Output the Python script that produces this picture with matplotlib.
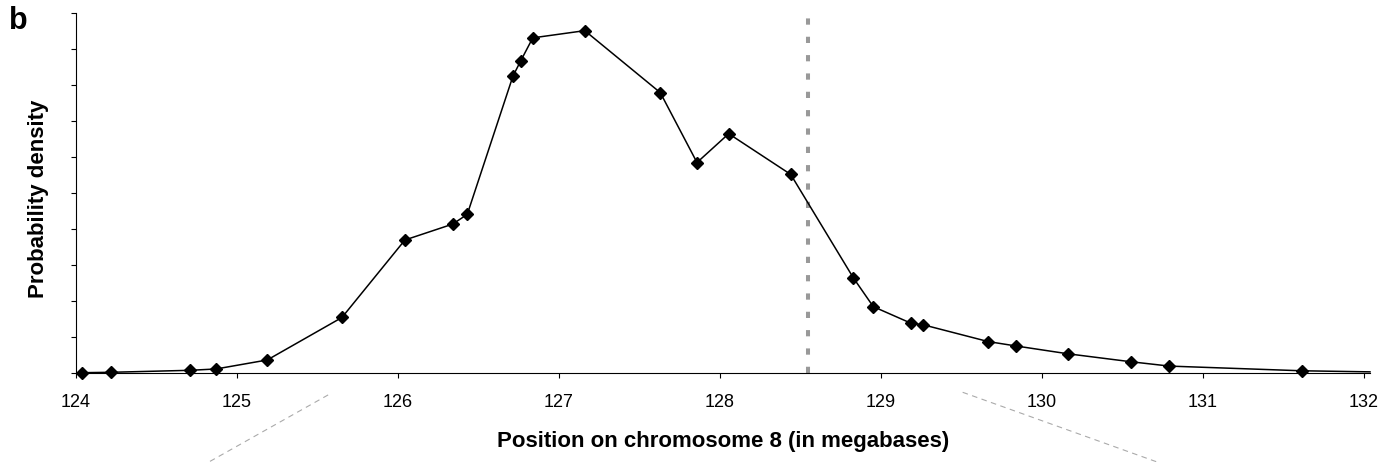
import matplotlib
matplotlib.use("Agg")
import matplotlib.pyplot as plt

plt.rcParams['font.family'] = ['Liberation Sans', 'DejaVu Sans']

# Position (Mb) and probability density (arbitrary units)
position = [124.039, 124.219, 124.708, 124.870, 125.188, 125.652, 126.043,
            126.339, 126.430, 126.714, 126.762, 126.837, 127.160, 127.629,
            127.857, 128.054, 128.439, 128.828, 128.952, 129.186, 129.259,
            129.666, 129.836, 130.163, 130.553, 130.791, 131.613, 132.037]
density = [0.017, 0.028, 0.083, 0.12, 0.37, 1.55, 3.70,
           4.14, 4.41, 8.25, 8.67, 9.31, 9.51, 7.79,
           5.85, 6.65, 5.52, 2.65, 1.85, 1.39, 1.35,
           0.88, 0.76, 0.54, 0.32, 0.20, 0.07, 0.04]

# marked position (gray dashed line)
marker_pos = 128.547

# zoom guide lines under the axis (x pairs, y pairs)
guide_left_x = [125.566, 124.826]
guide_left_y = [-0.60, -2.46]
guide_right_x = [129.507, 130.714]
guide_right_y = [-0.527, -2.46]

xticks = [124, 125, 126, 127, 128, 129, 130, 131, 132]
yticks = list(range(0, 11))

fig = plt.figure(figsize=(13.83, 4.62), dpi=100)
ax = fig.add_axes([76 / 1383, 1 - 373.3 / 462, 1294 / 1383, 360.3 / 462])

ax.plot(position, density, color='black', lw=1.1, marker='D', ms=5.8,
        markevery=list(range(len(position) - 1)), zorder=3, clip_on=False)

lw_v = 2.9
ax.plot([marker_pos, marker_pos], [0, 10.13], color='#999999', lw=lw_v,
        linestyle=(0, (4.5 / lw_v, 8.7 / lw_v)), clip_on=False, zorder=2)

for gx, gy in [(guide_left_x, guide_left_y), (guide_right_x, guide_right_y)]:
    ax.plot(gx, gy, color='#aaaaaa', lw=0.8, linestyle=(0, (5, 4)), clip_on=False)

ax.set_xlim(124, 132.037)
ax.set_ylim(0, 10)
ax.set_xticks(xticks)
ax.set_xticklabels([str(t) for t in xticks])
ax.set_yticks(yticks)
ax.set_yticklabels([])

for s in ['top', 'right']:
    ax.spines[s].set_visible(False)
for s in ['left', 'bottom']:
    ax.spines[s].set_linewidth(0.8)

ax.tick_params(axis='x', direction='out', length=3.6, width=0.8, labelsize=13, pad=11)
ax.tick_params(axis='y', direction='out', length=3.6, width=0.8)

ax.set_xlabel('Position on chromosome 8 (in megabases)', fontsize=16, fontweight='bold')
ax.xaxis.set_label_coords(0.5, -0.16)
ax.set_ylabel('Probability density', fontsize=16, fontweight='bold')
ax.yaxis.set_label_coords(-0.0205, 0.485)

fig.text(9 / 1383, 1 - 6 / 462, 'b', fontsize=22, fontweight='bold', va='top', ha='left')

fig.savefig('out.png', dpi=100)
